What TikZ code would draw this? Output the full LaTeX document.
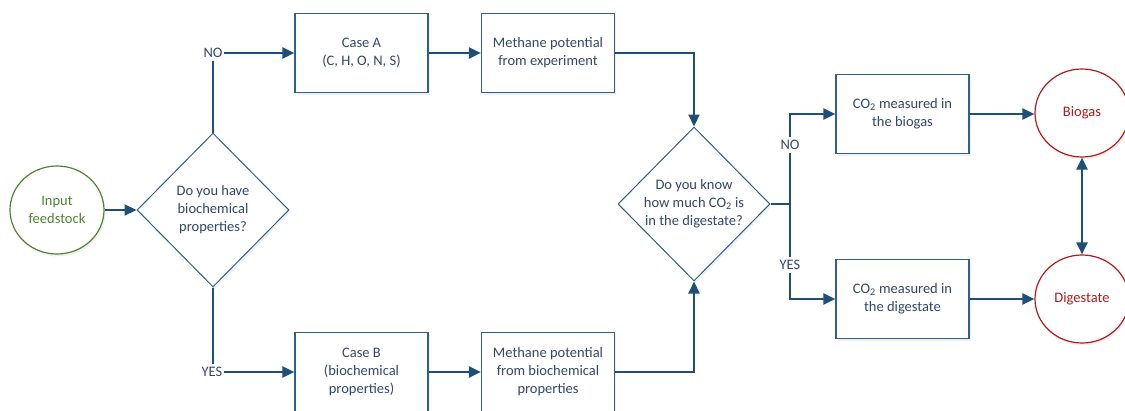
\documentclass[tikz,border=0pt]{standalone}
\usepackage{fontspec}
\setmainfont{Carlito}
\usetikzlibrary{arrows.meta,shapes.geometric,shadows}

\definecolor{linkblue}{HTML}{1F4E79}
\definecolor{boxblue}{HTML}{2E5F8E}
\definecolor{txtblue}{HTML}{34466A}
\definecolor{feedgreen}{HTML}{548235}
\definecolor{outred}{HTML}{B01C1C}

\tikzset{
  x=1pt, y=-1pt,
  every node/.style={font=\fontsize{14.5}{18}\selectfont, text=txtblue, align=center},
  softshadow/.style={drop shadow={opacity=0.12, shadow xshift=1.5pt, shadow yshift=-2.5pt}},
  procbox/.style={draw=boxblue, line width=1.2pt, fill=white, softshadow,
    minimum width=133pt, minimum height=79pt, inner sep=0pt},
  decision/.style={draw=boxblue, line width=1pt, fill=white, softshadow,
    shape=diamond, inner sep=0pt},
  terminal/.style={ellipse, line width=1.2pt, fill=white, softshadow,
    minimum width=94pt, minimum height=88pt, inner sep=0pt},
  branchlabel/.style={inner xsep=1pt, inner ysep=3.5pt},
  link/.style={draw=linkblue, line width=2.2pt},
  flow/.style={link, -{Triangle[length=12pt,width=11pt]}},
  twoway/.style={link, {Triangle[length=12pt,width=11pt]}-{Triangle[length=12pt,width=11pt]}},
}

\begin{document}
\begin{tikzpicture}
\useasboundingbox (0,0) rectangle (1125,410);

% start node and first question
\node[terminal, draw=feedgreen, text=feedgreen] (feed) at (57,210) {Input\\feedstock};
\node[decision, minimum width=152pt, minimum height=154pt] (q1) at (213,210)
  {Do you have\\biochemical\\properties?};

% the two cases
\node[branchlabel] (no1) at (213,53) {NO};
\node[branchlabel] (yes1) at (212,372) {YES};
\node[procbox] (caseA) at (361.5,53) {Case A\\(C, H, O, N, S)};
\node[procbox] (caseB) at (361.5,372) {Case B\\(biochemical\\properties)};
\node[procbox] (methA) at (548,53) {Methane potential\\from experiment};
\node[procbox] (methB) at (548,372) {Methane potential\\from biochemical\\properties};

% second question
\node[decision, minimum width=152pt, minimum height=154pt] (q2) at (694,204)
  {Do you know\\how much CO\textsubscript{2} is\\in the digestate?};
\coordinate (split) at (790,204);
\node[branchlabel] (no2) at (790,145) {NO};
\node[branchlabel] (yes2) at (790,265) {YES};

% measurement boxes and outputs
\node[procbox] (co2gas) at (902.5,114) {CO\textsubscript{2} measured in\\the biogas};
\node[procbox] (co2dig) at (902.5,299) {CO\textsubscript{2} measured in\\the digestate};
\node[terminal, draw=outred, text=outred] (biogas) at (1082,113) {Biogas};
\node[terminal, draw=outred, text=outred] (digest) at (1082,299) {Digestate};

% connectors
\draw[flow] (feed.east) -- (q1.west);
\draw[link] (q1.north) -- (no1.south -| q1.north);
\draw[flow] (no1.east) -- (no1.east -| caseA.west);
\draw[link] (q1.south) -- (yes1.north -| q1.south);
\draw[flow] (yes1.east) -- (yes1.east -| caseB.west);
\draw[flow] (caseA.east) -- (methA.west);
\draw[flow] (caseB.east) -- (methB.west);
\draw[flow] (methA.east) -| (q2.north);
\draw[flow] (methB.east) -| (q2.south);
\draw[link] (q2.east) -- (split);
\draw[link] (split) -- (no2.south);
\draw[link] (split) -- (yes2.north);
\draw[flow] (no2.north) |- (co2gas.west);
\draw[flow] (yes2.south) |- (co2dig.west);
\draw[flow] (co2gas.east) -- (co2gas.east -| biogas.west);
\draw[flow] (co2dig.east) -- (digest.west);
\draw[twoway] (biogas.south) -- (digest.north);
\end{tikzpicture}
\end{document}
